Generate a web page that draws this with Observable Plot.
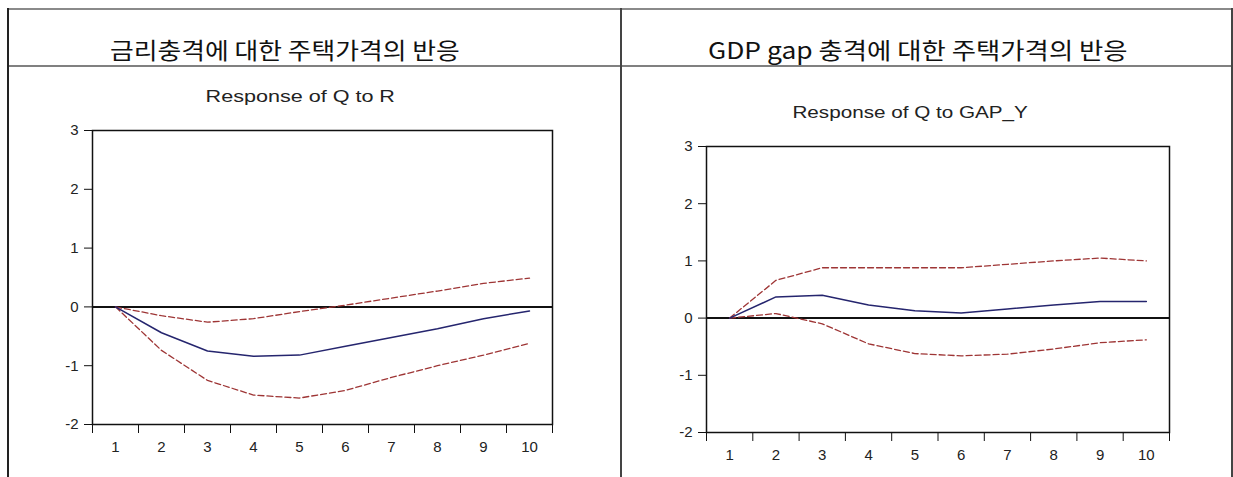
<!DOCTYPE html>
<html><head><meta charset="utf-8">
<script src="https://cdn.jsdelivr.net/npm/d3@7"></script>
<script src="https://cdn.jsdelivr.net/npm/@observablehq/plot@0.6"></script>
<style>
body{margin:0;background:#fff;}
#page{position:relative;width:1233px;height:477px;overflow:hidden;background:#fff;}
.ln{position:absolute;}
.ttl{position:absolute;white-space:nowrap;line-height:1;}
.kr{font-family:"Noto Sans CJK KR",sans-serif;font-size:23px;color:#111;}
.en{font-family:"Liberation Sans",Arial,sans-serif;font-size:16px;color:#222;}
.chart{position:absolute;}
</style></head><body>
<div id="page">
  <div class="ln" style="left:8px;top:8px;width:1225px;height:2px;background:#8a8a8a"></div>
  <div class="ln" style="left:8px;top:65px;width:1225px;height:2px;background:#808080"></div>
  <div class="ln" style="left:7px;top:8px;width:2px;height:469px;background:#222"></div>
  <div class="ln" style="left:620px;top:8px;width:2px;height:469px;background:#444"></div>
  <div class="ln" style="left:1231px;top:8px;width:2px;height:469px;background:#444"></div>
  <div id="c1" class="chart" style="left:40px;top:110px"></div>
  <div id="c2" class="chart" style="left:640px;top:120px"></div>
</div>
<script>
// Data
const periods = [1, 2, 3, 4, 5, 6, 7, 8, 9, 10];
const yTicks = [-2, -1, 0, 1, 2, 3];
const periodBounds = [0.5, 1.5, 2.5, 3.5, 4.5, 5.5, 6.5, 7.5, 8.5, 9.5, 10.5];

// Response of Q to R
const rateResponse = [0, -0.44, -0.75, -0.84, -0.82, -0.67, -0.52, -0.37, -0.20, -0.07];
const rateUpper    = [0, -0.15, -0.26, -0.20, -0.08, 0.03, 0.15, 0.27, 0.40, 0.49];
const rateLower    = [0, -0.74, -1.25, -1.50, -1.55, -1.42, -1.20, -1.00, -0.82, -0.62];

// Response of Q to GAP_Y
const gapResponse = [0, 0.37, 0.40, 0.23, 0.13, 0.09, 0.16, 0.23, 0.29, 0.29];
const gapUpper    = [0, 0.66, 0.88, 0.88, 0.88, 0.88, 0.94, 1.00, 1.05, 1.00];
const gapLower    = [0, 0.08, -0.10, -0.45, -0.62, -0.66, -0.63, -0.54, -0.43, -0.38];

const headerTitles = ["금리충격에 대한 주택가격의 반응", "GDP gap 충격에 대한 주택가격의 반응"];
const chartTitles = ["Response of Q to R", "Response of Q to GAP_Y"];

function rows(vals) { return periods.map((p, i) => ({period: p, value: vals[i]})); }

function chart(resp, upper, lower, o) {
  return Plot.plot({
    width: o.width, height: o.height,
    marginLeft: o.ml, marginRight: o.mr, marginTop: o.mt, marginBottom: o.mb,
    style: {background: "transparent", fontFamily: "'Liberation Sans', Arial, sans-serif", fontSize: "15px", color: "#222"},
    x: {domain: [0.5, 10.5]},
    y: {domain: [-2, 3]},
    marks: [
      Plot.ruleY([0], {stroke: "#111", strokeWidth: 2}),
      Plot.line(rows(upper), {x: "period", y: "value", stroke: "#9e3535", strokeWidth: 1.3, strokeDasharray: "6,3"}),
      Plot.line(rows(lower), {x: "period", y: "value", stroke: "#9e3535", strokeWidth: 1.3, strokeDasharray: "6,3"}),
      Plot.line(rows(resp), {x: "period", y: "value", stroke: "#25256e", strokeWidth: 1.5}),
      Plot.frame({stroke: "#111", strokeWidth: 1.5}),
      Plot.axisY({ticks: yTicks, tickSize: 8, tickPadding: 6, tickFormat: d => String(d), label: null, stroke: "#111", fontSize: 15}),
      Plot.axisX({ticks: periodBounds, tickSize: 9, tickFormat: () => "", label: null, stroke: "#111"}),
      Plot.axisX({ticks: periods, tickSize: 0, tickPadding: 17, tickFormat: d => String(d), label: null, fontSize: 15})
    ]
  });
}

document.getElementById("c1").appendChild(chart(rateResponse, rateUpper, rateLower,
  {width: 540, height: 367, ml: 52, mr: 28, mt: 20, mb: 53}));
document.getElementById("c2").appendChild(chart(gapResponse, gapUpper, gapLower,
  {width: 560, height: 357, ml: 66, mr: 31, mt: 26, mb: 45}));

const page = document.getElementById("page");
function addTitle(text, cls, cx, cy, target) {
  const d = document.createElement("div");
  d.className = "ttl " + cls;
  d.textContent = text;
  page.appendChild(d);
  const w = d.offsetWidth, h = d.offsetHeight;
  const k = target / w;
  d.style.left = (cx - w / 2) + "px";
  d.style.top = (cy - h / 2) + "px";
  d.style.transform = "scaleX(" + k + ")";
}
addTitle(headerTitles[0], "kr", 285, 49, 350);
addTitle(headerTitles[1], "kr", 918, 49, 420);
addTitle(chartTitles[0], "en", 300, 97, 190);
addTitle(chartTitles[1], "en", 910, 113, 235);
</script>
</body></html>
